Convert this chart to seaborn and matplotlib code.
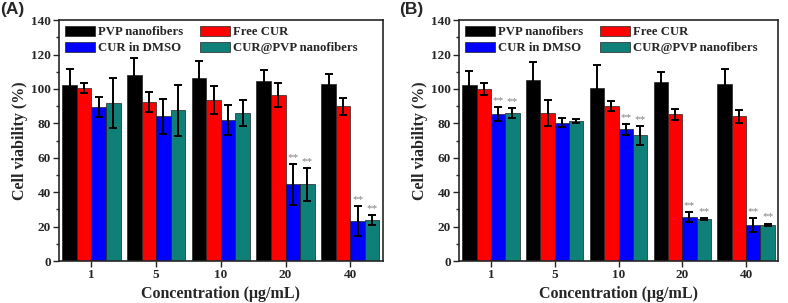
import numpy as np
import pandas as pd
import matplotlib
matplotlib.use('Agg')
import matplotlib.pyplot as plt
import seaborn as sns
from matplotlib.ticker import MultipleLocator

# data
conc = ['1', '5', '10', '20', '40']
groups = ['PVP nanofibers', 'Free CUR', 'CUR in DMSO', 'CUR@PVP nanofibers']
colors = ['#000000', '#ff0000', '#0000ff', '#0f8078']

# panel A: means and sd, one list per group
a_pvp = [102.5, 108, 106.5, 104.5, 103]
a_pvp_sd = [9, 10, 9.7, 6.5, 5.5]
a_free = [100.5, 92.5, 93.5, 96.5, 90]
a_free_sd = [3, 6, 8, 7, 5]
a_dmso = [89.5, 84, 82, 44.5, 23]
a_dmso_sd = [6, 10, 8.5, 11.7, 8.7]
a_np = [92, 87.5, 86, 44.5, 23.8]
a_np_sd = [14.5, 15, 7.5, 9.7, 3]
a_stars = [[], [], [], [2, 3], [2, 3]]   # which bars get ** per concentration

# panel B
b_pvp = [102.3, 105.2, 100.5, 104.1, 103.1]
b_pvp_sd = [8, 10.5, 13.5, 5.7, 8.5]
b_free = [100, 86, 90, 85.2, 84]
b_free_sd = [3.5, 7.5, 3, 3, 3.6]
b_dmso = [85.5, 80.3, 76.5, 25.5, 21]
b_dmso_sd = [4, 2.7, 3, 3, 3.9]
b_np = [86, 81.5, 73, 24.3, 21]
b_np_sd = [2.7, 1.2, 5.5, 0.6, 0.7]
b_stars = [[2, 3], [], [2, 3], [2, 3], [2, 3]]

sns.set_style('ticks')
plt.rcParams['font.family'] = ['Liberation Serif', 'DejaVu Serif']
plt.rcParams['font.weight'] = 'bold'
plt.rcParams['axes.labelweight'] = 'bold'


def make_df(vals):
    rows = []
    for g, v in zip(groups, vals):
        for c, y in zip(conc, v):
            rows.append({'conc': c, 'group': g, 'val': y})
    return pd.DataFrame(rows)


def panel(ax, means, sds, stars):
    df = make_df(means)
    sns.barplot(data=df, x='conc', y='val', hue='group', hue_order=groups,
                palette=colors, width=0.9, errorbar=None, ax=ax,
                edgecolor='#222222', linewidth=0.5, saturation=1)
    bars = list(ax.containers)
    for i, cont in enumerate(bars):
        xs = [p.get_x() + p.get_width() / 2 for p in cont.patches]
        ax.errorbar(xs, means[i], yerr=sds[i], fmt='none', ecolor='black',
                    elinewidth=1.4, capsize=3, capthick=1.4, zorder=5)
        for j, x in enumerate(xs):
            if i in stars[j]:
                ax.text(x, means[i][j] + sds[i][j] + 1.2, '**', ha='center',
                        va='bottom', fontsize=8, color='#808080',
                        fontweight='normal')
    ax.set_ylim(0, 140)
    ax.set_xlim(-0.5, 4.5)
    ax.yaxis.set_major_locator(MultipleLocator(20))
    ax.yaxis.set_minor_locator(MultipleLocator(10))
    ax.tick_params(axis='both', which='major', labelsize=9.5, length=4,
                   width=1, direction='out', pad=2)
    ax.tick_params(axis='y', which='minor', length=2.5, width=1)
    for s in ax.spines.values():
        s.set_linewidth(1.2)
        s.set_visible(True)
    ax.set_xlabel('Concentration (\u03bcg/mL)', fontsize=11.5, labelpad=3)
    ax.set_ylabel('Cell viability (%)', fontsize=11.5, labelpad=2)
    h, l = ax.get_legend_handles_labels()
    order = [0, 2, 1, 3]
    ax.legend([h[k] for k in order], [l[k] for k in order], ncol=2,
              loc='upper left', bbox_to_anchor=(0.0, 1.0), frameon=False,
              fontsize=9.2, handlelength=2.4, handleheight=0.8,
              labelspacing=0.3, columnspacing=1.3, handletextpad=0.2,
              borderaxespad=0.2, borderpad=0.25)


fig = plt.figure(figsize=(7.88, 3.03), dpi=100)
ax1 = fig.add_axes([0.0749, 0.1386, 0.4108, 0.795])
ax2 = fig.add_axes([0.5825, 0.1386, 0.4048, 0.795])

panel(ax1, [a_pvp, a_free, a_dmso, a_np], [a_pvp_sd, a_free_sd, a_dmso_sd, a_np_sd], a_stars)
panel(ax2, [b_pvp, b_free, b_dmso, b_np], [b_pvp_sd, b_free_sd, b_dmso_sd, b_np_sd], b_stars)

fig.text(0.0, 0.995, '(A)', fontsize=12.5, fontweight='bold', va='top', ha='left',
         family=['Liberation Sans', 'DejaVu Sans'])
fig.text(0.507, 0.995, '(B)', fontsize=12.5, fontweight='bold', va='top', ha='left',
         family=['Liberation Sans', 'DejaVu Sans'])

fig.savefig('out.png', dpi=100)
